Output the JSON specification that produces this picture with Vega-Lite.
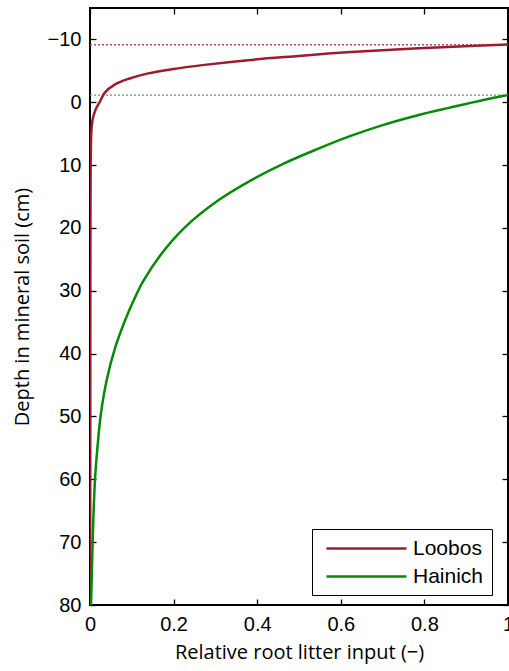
{
  "$schema": "https://vega.github.io/schema/vega-lite/v6.json",
  "autosize": "none",
  "width": 418,
  "height": 597,
  "padding": {"left": 90, "top": 8, "right": 1, "bottom": 66},
  "background": "white",
  "config": {
    "view": {"stroke": "black", "strokeWidth": 2},
    "axis": {"grid": false, "domain": false, "tickColor": "black", "tickWidth": 1.3, "labelColor": "black", "titleColor": "black", "labelFont": "Liberation Sans", "labelFontSize": 20, "titleFont": "Open Sans", "titleFontSize": 20, "titleFontWeight": "normal", "labelFlush": false},
    "legend": {"labelFont": "Liberation Sans", "labelFontSize": 21, "labelColor": "black"}
  },
  "datasets": {
    "curves": [
      {"series": "Loobos", "x": 0.0005, "depth": 80},
      {"series": "Loobos", "x": 0.0006, "depth": 60},
      {"series": "Loobos", "x": 0.0007, "depth": 40},
      {"series": "Loobos", "x": 0.0009, "depth": 25},
      {"series": "Loobos", "x": 0.0012, "depth": 15},
      {"series": "Loobos", "x": 0.0016, "depth": 10},
      {"series": "Loobos", "x": 0.0022, "depth": 7},
      {"series": "Loobos", "x": 0.003, "depth": 5},
      {"series": "Loobos", "x": 0.0045, "depth": 3.6},
      {"series": "Loobos", "x": 0.007, "depth": 2.5},
      {"series": "Loobos", "x": 0.011, "depth": 1.6},
      {"series": "Loobos", "x": 0.016, "depth": 0.8},
      {"series": "Loobos", "x": 0.023, "depth": 0},
      {"series": "Loobos", "x": 0.035, "depth": -1.5},
      {"series": "Loobos", "x": 0.059, "depth": -2.8},
      {"series": "Loobos", "x": 0.091, "depth": -3.7},
      {"series": "Loobos", "x": 0.139, "depth": -4.6},
      {"series": "Loobos", "x": 0.195, "depth": -5.25},
      {"series": "Loobos", "x": 0.274, "depth": -5.95},
      {"series": "Loobos", "x": 0.378, "depth": -6.7},
      {"series": "Loobos", "x": 0.486, "depth": -7.3},
      {"series": "Loobos", "x": 0.614, "depth": -7.95},
      {"series": "Loobos", "x": 0.742, "depth": -8.45},
      {"series": "Loobos", "x": 0.87, "depth": -8.85},
      {"series": "Loobos", "x": 1.0, "depth": -9.2},
      {"series": "Hainich", "x": 0.0024, "depth": 80},
      {"series": "Hainich", "x": 0.004, "depth": 76},
      {"series": "Hainich", "x": 0.0072, "depth": 68},
      {"series": "Hainich", "x": 0.012, "depth": 60},
      {"series": "Hainich", "x": 0.018, "depth": 54.8},
      {"series": "Hainich", "x": 0.026, "depth": 49.6},
      {"series": "Hainich", "x": 0.04, "depth": 44.2},
      {"series": "Hainich", "x": 0.06, "depth": 39.1},
      {"series": "Hainich", "x": 0.084, "depth": 34.7},
      {"series": "Hainich", "x": 0.104, "depth": 31.6},
      {"series": "Hainich", "x": 0.128, "depth": 28.4},
      {"series": "Hainich", "x": 0.171, "depth": 24.1},
      {"series": "Hainich", "x": 0.227, "depth": 19.9},
      {"series": "Hainich", "x": 0.307, "depth": 15.6},
      {"series": "Hainich", "x": 0.383, "depth": 12.5},
      {"series": "Hainich", "x": 0.462, "depth": 9.8},
      {"series": "Hainich", "x": 0.542, "depth": 7.5},
      {"series": "Hainich", "x": 0.622, "depth": 5.4},
      {"series": "Hainich", "x": 0.702, "depth": 3.6},
      {"series": "Hainich", "x": 0.782, "depth": 2.1},
      {"series": "Hainich", "x": 0.861, "depth": 0.85},
      {"series": "Hainich", "x": 0.941, "depth": -0.37},
      {"series": "Hainich", "x": 1.0, "depth": -1.17}
    ],
    "levels": [
      {"series": "Loobos", "level": -9.15},
      {"series": "Hainich", "level": -1.15}
    ]
  },
  "resolve": {"axis": {"x": "independent", "y": "independent"}},
  "layer": [
    {
      "data": {"name": "levels"},
      "transform": [{"filter": "datum.series == 'Loobos'"}],
      "mark": {"type": "rule", "stroke": "#b04a5c", "strokeWidth": 1.3, "strokeDash": [2, 2]},
      "encoding": {"y": {"field": "level", "type": "quantitative", "scale": {"domain": [-15, 80], "reverse": true, "nice": false, "zero": false}, "axis": null}}
    },
    {
      "data": {"name": "levels"},
      "transform": [{"filter": "datum.series == 'Hainich'"}],
      "mark": {"type": "rule", "stroke": "#4aa84a", "strokeWidth": 1.3, "strokeDash": [2, 2]},
      "encoding": {"y": {"field": "level", "type": "quantitative", "axis": null}}
    },
    {
      "mark": {"type": "rule", "stroke": "black", "strokeWidth": 2.5},
      "encoding": {"y": {"datum": 0, "type": "quantitative", "axis": null}}
    },
    {
      "data": {"name": "curves"},
      "mark": {"type": "line", "strokeWidth": 2.5, "clip": true, "interpolate": "catmull-rom"},
      "encoding": {
        "x": {"field": "x", "type": "quantitative", "scale": {"domain": [0, 1], "nice": false},
          "axis": {"orient": "bottom", "values": [0, 0.2, 0.4, 0.6, 0.8, 1], "format": "~g", "tickSize": -6, "labelPadding": 15, "labelFlush": false, "title": "Relative root litter input (−)", "titleY": 53, "titleBaseline": "alphabetic"}},
        "y": {"field": "depth", "type": "quantitative",
          "axis": {"orient": "left", "values": [-10, 0, 10, 20, 30, 40, 50, 60, 70, 80], "tickSize": -6, "labelPadding": 15, "title": "Depth in mineral soil (cm)", "titleX": -62, "titleBaseline": "alphabetic"}},
        "order": {"field": "depth", "type": "quantitative"},
        "color": {"field": "series", "type": "nominal",
          "scale": {"domain": ["Loobos", "Hainich"], "range": ["#9b1c31", "#078a07"]},
          "legend": {"title": null, "orient": "none", "legendX": 222, "legendY": 521, "symbolType": "M-0.5,0H7.5", "symbolSize": 400, "symbolStrokeWidth": 2.5, "labelOffset": 70, "padding": 8, "rowPadding": 6, "strokeColor": "black", "fillColor": "white"}}
      }
    },
    {
      "data": {"name": "curves"},
      "mark": {"type": "point", "opacity": 0},
      "encoding": {
        "x": {"field": "x", "type": "quantitative", "axis": {"orient": "top", "values": [0, 0.2, 0.4, 0.6, 0.8, 1], "tickSize": -6, "labels": false, "title": null}},
        "y": {"field": "depth", "type": "quantitative", "axis": {"orient": "right", "values": [-10, 0, 10, 20, 30, 40, 50, 60, 70, 80], "tickSize": -6, "labels": false, "title": null}}
      }
    }
  ]
}
